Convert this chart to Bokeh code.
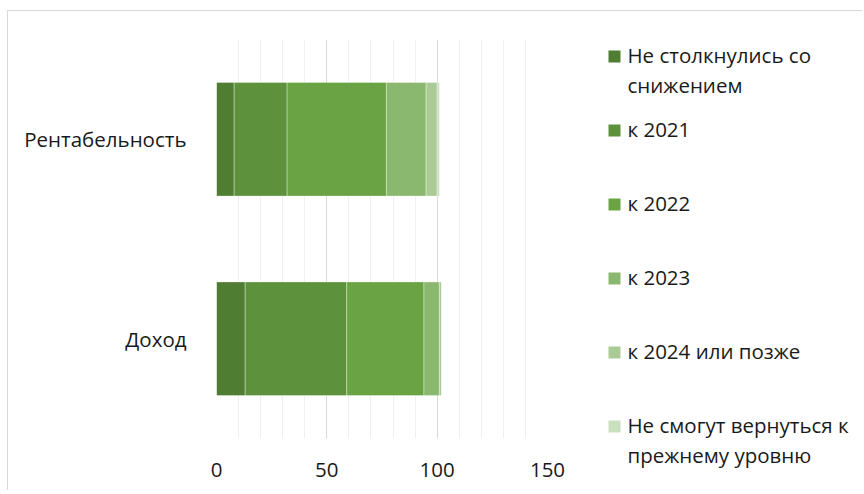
from bokeh.plotting import figure
from bokeh.models import ColumnDataSource, Range1d, FactorRange, SingleIntervalTicker
from bokeh.layouts import row
from bokeh.embed import file_html
from bokeh.resources import INLINE
from bokeh.core.properties import value

# ---- data ----
categories = ["Доход", "Рентабельность"]
series = ["Не столкнулись со снижением", "к 2021", "к 2022", "к 2023",
          "к 2024 или позже", "Не смогут вернуться к прежнему уровню"]
legend_labels = ["Не столкнулись со\nснижением", "к 2021", "к 2022", "к 2023",
                 "к 2024 или позже", "Не смогут вернуться к\nпрежнему уровню"]
not_affected = [13, 8]
by_2021 = [46, 24]
by_2022 = [35, 45]
by_2023 = [7, 18]
by_2024_later = [1, 5]
cannot_recover = [0, 1]
x_ticks = [0, 50, 100, 150]

colors = ["#4f7d32", "#5e913c", "#6aa343", "#8ab86e", "#aacb96", "#c9dfbd"]
FONT = "Open Sans"
FS = "20.5px"
TXT = "#1a1a1a"

source = ColumnDataSource(dict(
    cat=categories,
    s0=not_affected, s1=by_2021, s2=by_2022, s3=by_2023, s4=by_2024_later, s5=cannot_recover,
))
stackers = ["s0", "s1", "s2", "s3", "s4", "s5"]

H = 479
W1 = 590
W2 = 264

p = figure(width=W1, height=H, y_range=FactorRange(*categories),
           x_range=Range1d(x_ticks[0], x_ticks[-1]),
           output_backend="svg", toolbar_location=None,
           min_border_left=208, min_border_right=W1 - 539,
           min_border_top=28, min_border_bottom=H - 427)
p.outline_line_color = None
p.frame_align = False
p.hbar_stack(stackers, y="cat", height=0.57, color=colors, source=source,
             line_color="white", line_alpha=0.35, line_width=1)

p.xaxis.ticker = SingleIntervalTicker(interval=50, num_minor_ticks=5)
p.xgrid.grid_line_color = "#d9d9d9"
p.xgrid.minor_grid_line_color = "#efefef"
p.ygrid.grid_line_color = None
for ax in (p.xaxis[0], p.yaxis[0]):
    ax.axis_line_color = None
    ax.major_tick_line_color = None
    ax.minor_tick_line_color = None
    ax.major_label_text_font = FONT
    ax.major_label_text_font_size = FS
    ax.major_label_text_color = TXT
p.xaxis.major_label_standoff = 18
p.yaxis.major_label_standoff = 24
p.yaxis.major_label_orientation = "horizontal"

# ---- legend panel ----
lg = figure(width=W2, height=H, x_range=Range1d(0, W2), y_range=Range1d(H, 0),
            output_backend="svg", toolbar_location=None,
            min_border=0)
lg.frame_align = False
lg.axis.visible = False
lg.grid.visible = False
lg.outline_line_color = None
n = len(series)
ys = [45 + 74 * i for i in range(n)]
lg.rect(x=[16] * n, y=ys, width=12, height=12, color=colors, line_color=None)
lg.text(x=[29] * n, y=[y - 16 for y in ys], text=legend_labels,
        text_font=value(FONT), text_font_size=FS, text_color=TXT,
        text_baseline="top", text_align="left", text_line_height=1.075)

layout = row(p, lg, margin=(10, 0, 0, 7),
             styles={"border-left": "1px solid #d9d9d9", "border-top": "1px solid #d9d9d9"})
open("out.html", "w").write(file_html(layout, INLINE))
